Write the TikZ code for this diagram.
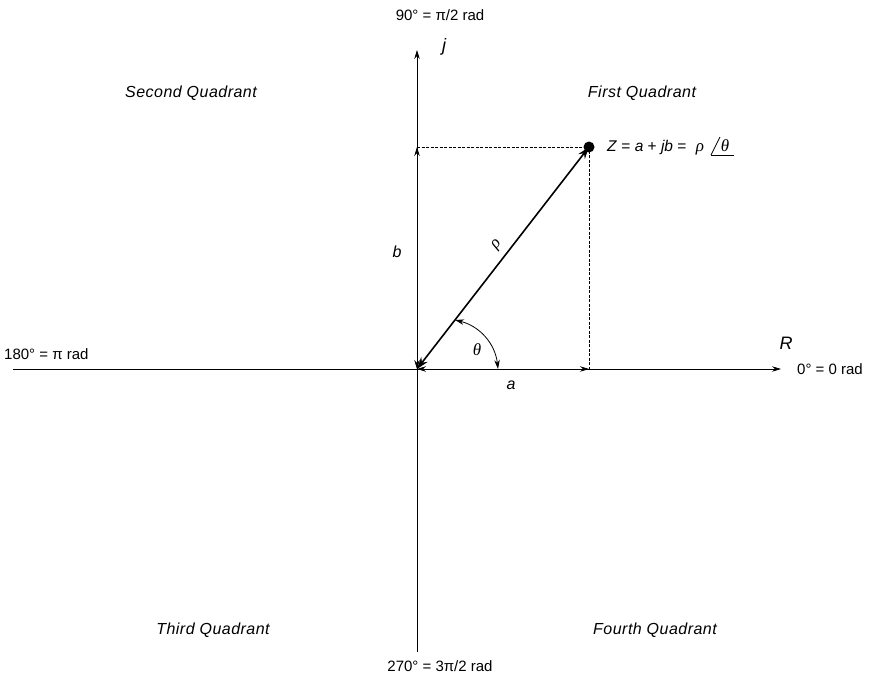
\documentclass[tikz,border=0pt]{standalone}
\usepackage{fontspec}
\setmainfont{Liberation Sans}
\newfontfamily\grk{Liberation Serif}
\usetikzlibrary{arrows.meta}
\begin{document}
\begin{tikzpicture}[x=1pt,y=-1pt,
  lbl/.style={inner sep=0pt,font=\fontsize{15}{18}\selectfont},
  qlbl/.style={inner sep=0pt,font=\fontsize{16}{18}\selectfont\itshape\addfontfeature{LetterSpace=3}},
  glbl/.style={inner sep=0pt,font=\fontsize{17}{20}\selectfont\grk\itshape},
  axis/.style={line width=0.8pt,-{Stealth[length=9pt,width=5.5pt]}},
  dim/.style={line width=0.8pt,{Stealth[length=9pt,width=5.5pt]}-{Stealth[length=9pt,width=5.5pt]}},
  vec/.style={line width=1.6pt,{Stealth[length=12pt,width=8pt]}-{Stealth[length=12pt,width=8pt]}},
  dashline/.style={line width=0.6pt,dash pattern=on 3pt off 1.5pt}]
\useasboundingbox (0,0) rectangle (875,674);
% key points
\coordinate (O) at (417,369);
\coordinate (top) at (417,50);
\coordinate (bot) at (417,652);
\coordinate (left) at (13,369);
\coordinate (right) at (781,369);
\coordinate (Zp) at (589,147);
\coordinate (bp) at (417,147);
\coordinate (ap) at (589,369);
\coordinate (t1) at (498,369);
\coordinate (t2) at (455,320);
% axes
\draw[axis] (bot) -- (top);
\draw[axis] (left) -- (right);
% dashed projections
\draw[dashline] (bp) -- (Zp) -- (ap);
% components
\draw[dim] (O) -- (bp);
\draw[dim] (O) -- (ap);
\draw[vec] (O) -- (Zp);
\fill (Zp) circle (5.5);
% angle arc
\draw[dim] (t2) to[bend left=35] (t1);
% labels
\node[lbl] (l90) at (440,15) {90° = π/2 rad};
\node[lbl] (l270) at (440,666) {270° = 3π/2 rad};
\node[lbl,anchor=west] (l180) at (4,354) {180° = π rad};
\node[lbl,anchor=west] (l0) at (797,369) {0° = 0 rad};
\node[lbl,font=\fontsize{18}{20}\selectfont\itshape] (lj) at (444,47) {j};
\node[lbl,font=\fontsize{18}{20}\selectfont\itshape] (lR) at (786,343) {R};
\node[qlbl] (q2) at (191,93) {Second Quadrant};
\node[qlbl] (q1) at (642,93) {First Quadrant};
\node[qlbl] (q3) at (213,630) {Third Quadrant};
\node[qlbl] (q4) at (655,630) {Fourth Quadrant};
\node[qlbl] (lb) at (397,252) {b};
\node[qlbl] (la) at (511,385) {a};
\node[glbl] (lth) at (477,350) {θ};
\node[glbl,rotate=50] (lrho) at (497,245) {ρ};
\node[lbl,anchor=base west,font=\fontsize{15.5}{18}\selectfont] (lZ) at (607,151) {\textit{Z} = \textit{a} + \textit{jb} =};
\node[glbl,anchor=base] (lZrho) at (700,151) {ρ};
\node[glbl,anchor=base] (lZth) at (725,151) {θ};
\coordinate (s0) at (711,155);
\draw[line width=0.8pt] (s0) -- (720,137);
\draw[line width=0.8pt] (s0) -- (734,155);
\end{tikzpicture}
\end{document}
